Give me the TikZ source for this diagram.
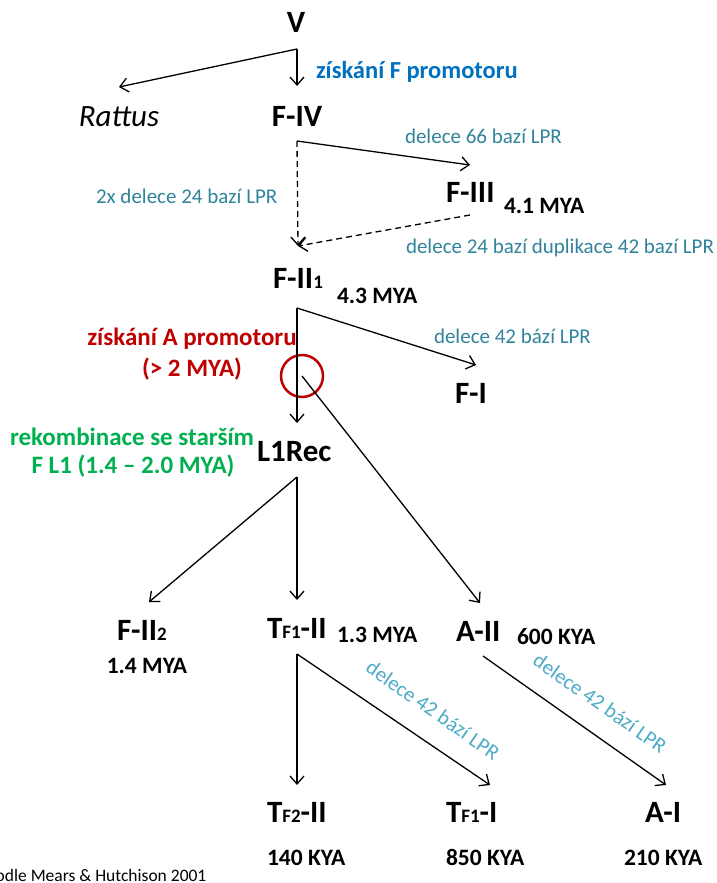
\documentclass[tikz,border=0pt]{standalone}
\usepackage{fontspec}
\setmainfont{Carlito}
\usetikzlibrary{arrows.meta}
\definecolor{tealdark}{HTML}{31849B}
\definecolor{teallight}{HTML}{4BACC6}
\definecolor{promblue}{HTML}{0070C0}
\definecolor{promred}{HTML}{C00000}
\definecolor{recgreen}{HTML}{00B050}
\newcommand\smallidx[1]{{\fontsize{19}{19}\selectfont #1}}

\begin{document}
\begin{tikzpicture}[x=1pt,y=-1pt,
  every node/.style={inner sep=0pt, outer sep=0pt},
  taxon/.style={font=\fontsize{31}{31}\selectfont\bfseries},
  age/.style={font=\fontsize{23.5}{23.5}\selectfont\bfseries},
  note/.style={font=\fontsize{21}{21}\selectfont, text=tealdark},
  slant/.style={font=\fontsize{21}{21}\selectfont, text=teallight, rotate=-35},
  arr/.style={line width=1.3pt, -{Straight Barb[length=8pt,width=14pt]}},
  darr/.style={arr, dash pattern=on 6pt off 4pt},
]
\useasboundingbox (0,0) rectangle (717,883);
\clip (0,0) rectangle (717,883);
\fill[white] (0,0) rectangle (717,883);

% taxa
\node[taxon, anchor=base] (V) at (296,33) {V};
\node[font=\fontsize{31}{31}\selectfont\itshape, anchor=base] (Rattus) at (119,126) {Rattus};
\node[taxon, anchor=base] (FIV) at (297,126) {F-IV};
\node[taxon, anchor=base west] (FIII) at (446,202) {F-III};
\node[taxon, anchor=base west] (FII1) at (273,288) {F-II\smallidx{1}};
\node[taxon, anchor=base west] (FI) at (455,403) {F-I};
\node[taxon, anchor=base west] (L1Rec) at (257,461) {L1Rec};
\node[taxon, anchor=base west] (FII2) at (117,640) {F-II\smallidx{2}};
\node[taxon, anchor=base west] (TF1II) at (267,638) {T\smallidx{F1}-II};
\node[taxon, anchor=base west] (AII) at (456,641) {A-II};
\node[taxon, anchor=base west] (TF2II) at (267,822) {T\smallidx{F2}-II};
\node[taxon, anchor=base west] (TF1I) at (446,822) {T\smallidx{F1}-I};
\node[taxon, anchor=base west] (AI) at (645,822) {A-I};

% ages
\node[age, anchor=base west] (FIIIage) at (504,213) {4.1 MYA};
\node[age, anchor=base west] (FII1age) at (337,303) {4.3 MYA};
\node[age, anchor=base] (FII2age) at (147,673) {1.4 MYA};
\node[age, anchor=base west] (TF1IIage) at (337,642) {1.3 MYA};
\node[age, anchor=base west] (AIIage) at (517,644) {600 KYA};
\node[age, anchor=base west] (TF2IIage) at (267,865) {140 KYA};
\node[age, anchor=base west] (TF1Iage) at (446,865) {850 KYA};
\node[age, anchor=base west] (AIage) at (624,865) {210 KYA};

% events along the branches
\node[font=\fontsize{24.5}{24.5}\selectfont\bfseries, text=promblue, anchor=base west] (getF) at (316,78) {získání F promotoru};
\node[note, anchor=base west] (del66) at (405,143) {delece 66 bazí LPR};
\node[note, anchor=base west] (del24x2) at (96,203) {2x delece 24 bazí LPR};
\node[note, anchor=base west] (del24dup) at (406,253) {delece 24 bazí duplikace 42 bazí LPR};
\node[note, anchor=base west] (del42a) at (434,343) {delece 42 bází LPR};
\node[font=\fontsize{25}{25}\selectfont\bfseries, text=promred, anchor=base] (getA) at (192,345) {získání A promotoru};
\node[font=\fontsize{25}{25}\selectfont\bfseries, text=promred, anchor=base] (getAage) at (192,376) {(> 2 MYA)};
\node[font=\fontsize{25}{25}\selectfont\bfseries, text=recgreen, anchor=base] (rec1) at (132,445) {rekombinace se starším};
\node[font=\fontsize{25}{25}\selectfont\bfseries, text=recgreen, anchor=base] (rec2) at (133,473) {F L1 (1.4 – 2.0 MYA)};
\node[slant] (del42b) at (433,710) {delece 42 bází LPR};
\node[slant] (del42c) at (600,703) {delece 42 bází LPR};

% source
\node[font=\fontsize{17.5}{17.5}\selectfont, anchor=base west] (src) at (-13.5,881) {podle Mears \& Hutchison 2001};

% branch points and arrow ends
\coordinate (V-out) at (297,49);
\coordinate (Rattus-in) at (119,87);
\coordinate (FIV-in) at (297,86);
\coordinate (FIV-out) at (297,141);
\coordinate (FIII-in) at (470,165);
\coordinate (FIII-out) at (470,215);
\coordinate (FII1-in) at (298,246);
\coordinate (FII1-out) at (297,308);
\coordinate (FI-in) at (476,365);
\coordinate (L1Rec-in) at (297,423);
\coordinate (L1Rec-out) at (297,477);
\coordinate (FII2-in) at (149,602);
\coordinate (TF1II-in) at (297,600);
\coordinate (AII-in) at (480,603);
\coordinate (TF1II-out) at (297,654);
\coordinate (TF2II-in) at (297,785);
\coordinate (TF1I-in) at (490,785);
\coordinate (AII-out) at (483,656);
\coordinate (AI-in) at (666,785);

% marked origin of the A promoter
\node[circle, draw=promred, line width=2.5pt, minimum size=42pt] (mark) at (302,376) {};

% branches
\draw[arr] (V-out) -- (Rattus-in);
\draw[arr] (V-out) -- (FIV-in);
\draw[arr] (FIV-out) -- (FIII-in);
\draw[darr] (FIV-out) -- (FII1-in);
\draw[darr] (FIII-out) -- (FII1-in);
\draw[arr] (FII1-out) -- (FI-in);
\draw[arr] (FII1-out) -- (L1Rec-in);
\draw[arr] (mark.center) -- (AII-in);
\draw[arr] (L1Rec-out) -- (FII2-in);
\draw[arr] (L1Rec-out) -- (TF1II-in);
\draw[arr] (TF1II-out) -- (TF2II-in);
\draw[arr] (TF1II-out) -- (TF1I-in);
\draw[arr] (AII-out) -- (AI-in);
\end{tikzpicture}
\end{document}
